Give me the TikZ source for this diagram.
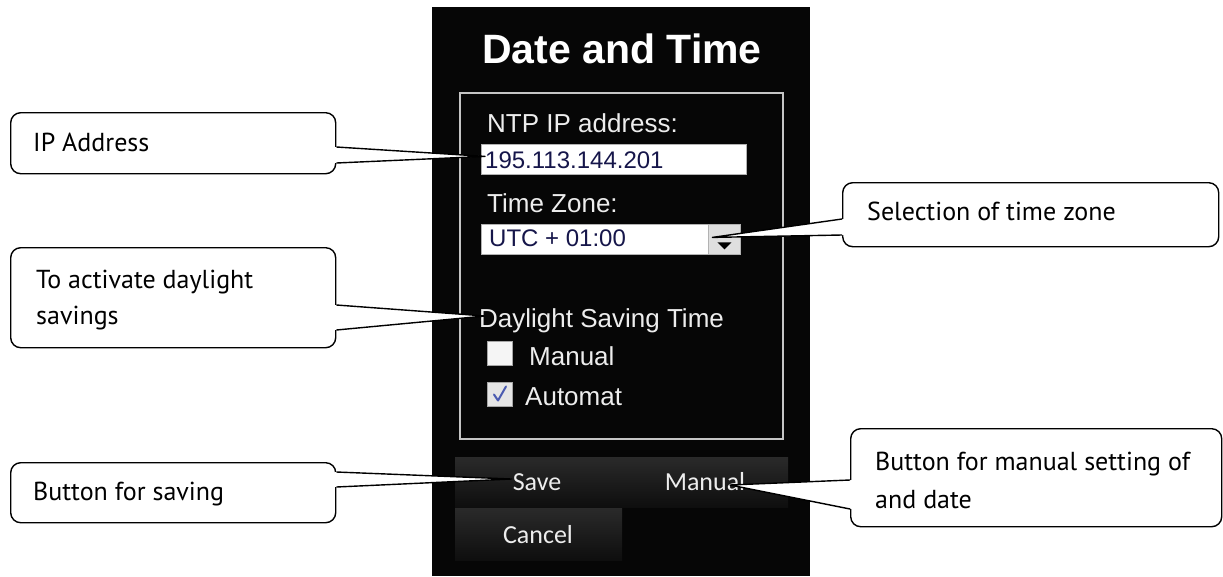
\documentclass[tikz,border=0pt]{standalone}
\usepackage{fontspec}
\setmainfont{Liberation Sans}
\newfontfamily\callfont{PT Sans}
\newfontfamily\btnfont{Carlito}
\usetikzlibrary{calc}
\definecolor{panelbg}{HTML}{060606}
\definecolor{uitext}{HTML}{EDEDED}
\definecolor{fieldtext}{HTML}{16164A}
\definecolor{framegray}{HTML}{C4C4C4}
\definecolor{checkblue}{HTML}{4A5AB0}
\definecolor{btntop}{HTML}{2A2A2A}
\definecolor{btnbot}{HTML}{0E0E0E}
\tikzset{
  callbox/.style={draw=black, line width=1.4pt, fill=white, rounded corners=10pt, anchor=north west, inner sep=0pt},
  calltext/.style={font=\callfont\fontsize{26}{30}\selectfont, text=black, anchor=base west, inner sep=0pt},
  uilabel/.style={font=\fontsize{26}{30}\selectfont, text=uitext, anchor=base west, inner sep=0pt},
  fieldlabel/.style={font=\fontsize{24}{28}\selectfont, text=fieldtext, anchor=base west, inner sep=0pt},
  field/.style={fill=white, draw=gray!60, line width=0.8pt, anchor=north west, inner sep=0pt},
  btnlabel/.style={font=\btnfont\fontsize{26}{30}\selectfont, text=uitext, inner sep=0pt},
  btnshade/.style={top color=btntop, bottom color=btnbot},
  checkbox/.style={draw=gray!70, line width=1pt, anchor=north west, inner sep=0pt, minimum width=25pt, minimum height=24pt},
  pointer/.style={draw=black, line width=1.4pt, line join=round},
}
\begin{document}
\begin{tikzpicture}[x=1pt,y=-1pt]
\useasboundingbox (0,0) rectangle (1223,576);
\fill[white] (0,0) rectangle (1223,576);

% ---------- dark panel ----------
\fill[panelbg] (432,7) rectangle (810,576);
\node[font=\bfseries\fontsize{41}{41}\selectfont, text=white, anchor=base] (title) at (622,63) {Date and Time};
\draw[framegray, line width=1.2pt] (460,93) rectangle (783,439);

\node[uilabel] (ntp) at (487,132) {NTP IP address:};
\node[field, minimum width=265pt, minimum height=30pt] (ipfield) at (481,144) {};
\node[fieldlabel] (ipval) at (485,168) {195.113.144.201};

\node[uilabel] (tzlabel) at (487,212) {Time Zone:};
\node[field, minimum width=227pt, minimum height=30pt] (tzfield) at (481,224) {};
\node[fieldlabel] (tzval) at (489,246) {UTC + 01:00};
\node[field, fill=gray!25, minimum width=32pt, minimum height=30pt] (tzbtn) at (708,224) {};
\fill[black] ($(tzbtn.center)+(-7,3)$) -- ($(tzbtn.center)+(7,3)$) -- ($(tzbtn.center)+(0,10)$) -- cycle;

\node[uilabel] (dst) at (479,327) {Daylight Saving Time};
\node[checkbox, fill=gray!8] (cbman) at (487,341) {};
\node[uilabel] (man) at (529,365) {Manual};
\node[checkbox, fill=gray!20] (cbauto) at (487,382) {};
\draw[checkblue, line width=2pt, line cap=round, line join=round]
  ($(cbauto.center)+(-6,0)$) -- ($(cbauto.center)+(-2,6)$) -- ($(cbauto.center)+(6,-8)$);
\node[uilabel] (auto) at (525,405) {Automat};

% buttons
\shade[btnshade] (455,457) rectangle (788,507);
\shade[btnshade] (455,508) rectangle (622,560);
\node[btnlabel] (save) at (537,482) {Save};
\node[btnlabel] (manbtn) at (705,482) {Manual};
\node[btnlabel] (cancel) at (538,535) {Cancel};

% ---------- callouts ----------
% IP address
\node[callbox, minimum width=325pt, minimum height=61pt] (cip) at (10,112) {};
\node[calltext] (tip1) at (33,151) {IP Address};
\coordinate (ipTip) at ($(ipfield.west)+(4,-3)$);
\fill[white] ($(cip.north east)+(-2,35)$) -- (ipTip) -- ($(cip.north east)+(-2,51)$) -- cycle;
\draw[pointer] ($(cip.north east)+(0,35)$) -- (ipTip) -- ($(cip.north east)+(0,51)$);

% daylight
\node[callbox, minimum width=325pt, minimum height=100pt] (cday) at (10,247) {};
\node[calltext] (tday1) at (36,288) {To activate daylight};
\node[calltext] (tday2) at (36,324) {savings};
\coordinate (dayTip) at ($(dst.base west)+(6,-11)$);
\fill[white] ($(cday.north east)+(-2,58)$) -- (dayTip) -- ($(cday.north east)+(-2,83)$) -- cycle;
\draw[pointer] ($(cday.north east)+(0,58)$) -- (dayTip) -- ($(cday.north east)+(0,83)$);

% time zone
\node[callbox, minimum width=376pt, minimum height=64pt] (ctz) at (842,182) {};
\node[calltext] (ttz) at (867,220) {Selection of time zone};
\coordinate (tzTip) at ($(tzbtn.center)+(-12,-2)$);
\fill[white] ($(ctz.north west)+(2,37)$) -- (tzTip) -- ($(ctz.north west)+(2,53)$) -- cycle;
\draw[pointer] ($(ctz.north west)+(0,37)$) -- (tzTip) -- ($(ctz.north west)+(0,53)$);

% save
\node[callbox, minimum width=325pt, minimum height=60pt] (csave) at (10,462) {};
\node[calltext] (tsave) at (33,500) {Button for saving};
\coordinate (saveTip) at ($(save.west)+(-1,-3)$);
\fill[white] ($(csave.north east)+(-2,10)$) -- (saveTip) -- ($(csave.north east)+(-2,25)$) -- cycle;
\draw[pointer] ($(csave.north east)+(0,10)$) -- (saveTip) -- ($(csave.north east)+(0,25)$);

% manual setting
\node[callbox, minimum width=371pt, minimum height=98pt] (cman) at (850,428) {};
\node[calltext] (tman1) at (875,470) {Button for manual setting of};
\node[calltext] (tman2) at (875,508) {and date};
\coordinate (manTip) at ($(manbtn.center)+(25,3)$);
\fill[white] ($(cman.north west)+(2,52)$) -- (manTip) -- ($(cman.north west)+(2,81)$) -- cycle;
\draw[pointer] ($(cman.north west)+(0,52)$) -- (manTip) -- ($(cman.north west)+(0,81)$);
\end{tikzpicture}
\end{document}
